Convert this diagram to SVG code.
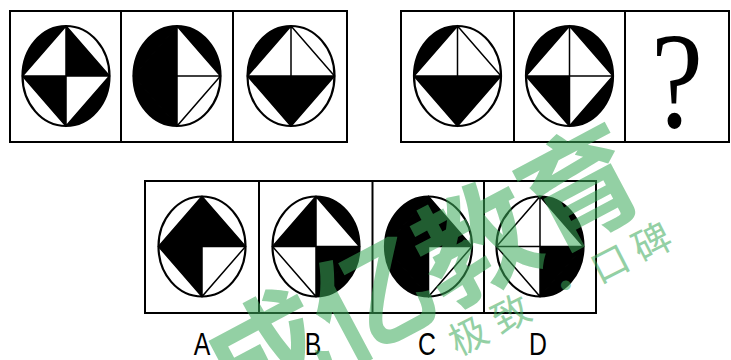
<svg xmlns="http://www.w3.org/2000/svg" xmlns:xlink="http://www.w3.org/1999/xlink" width="731" height="360" viewBox="0 0 731 360">
  <style>
    .box { fill: none; stroke: #000; stroke-width: 2; }
    .blk { fill: #000; }
    .outline { fill: none; stroke: #000; stroke-width: 2.2; }
    .lines { fill: none; stroke: #000; stroke-width: 1.5; }
    .lbl { font-family: "Liberation Sans", Arial, sans-serif; font-size: 31px; fill: #000; text-anchor: middle; }
    .q { font-family: "Liberation Serif", "Times New Roman", serif; font-size: 138px; fill: #000; text-anchor: middle; }
    .wm { font-family: "Noto Sans CJK SC", "Noto Sans", sans-serif; fill: rgb(60,170,90); opacity: 0.55; }
    .wms { font-size: 38px; text-anchor: middle; }
  </style>
  <defs>
    <path id="ctl" d="M-43.5,0 A43.5,50 0 0 1 0,-50 Z"/>
    <path id="ctr" d="M0,-50 A43.5,50 0 0 1 43.5,0 Z"/>
    <path id="cbr" d="M43.5,0 A43.5,50 0 0 1 0,50 Z"/>
    <path id="cbl" d="M0,50 A43.5,50 0 0 1 -43.5,0 Z"/>
    <path id="ttl" d="M0,0 H-43.5 L0,-50 Z"/>
    <path id="ttr" d="M0,0 V-50 L43.5,0 Z"/>
    <path id="tbr" d="M0,0 H43.5 L0,50 Z"/>
    <path id="tbl" d="M0,0 V50 L-43.5,0 Z"/>
    <g id="frame">
      <path class="lines" d="M0,-50 L43.5,0 L0,50 L-43.5,0 Z M0,-50 V50 M-43.5,0 H43.5"/>
      <ellipse class="outline" cx="0" cy="0" rx="43.5" ry="50"/>
    </g>
  </defs>

  <rect width="731" height="360" fill="#fff"/>

  <!-- boxes -->
  <g id="boxes">
    <rect class="box" x="10" y="11" width="337" height="131"/>
    <line class="box" x1="121" y1="11" x2="121" y2="142"/>
    <line class="box" x1="233" y1="11" x2="233" y2="142"/>
    <rect class="box" x="401" y="11" width="328" height="131"/>
    <line class="box" x1="514" y1="11" x2="514" y2="142"/>
    <line class="box" x1="625" y1="11" x2="625" y2="142"/>
    <rect class="box" x="145" y="181" width="451" height="132"/>
    <line class="box" x1="259" y1="181" x2="259" y2="313"/>
    <line class="box" x1="372.5" y1="181" x2="372.5" y2="313"/>
    <line class="box" x1="484" y1="181" x2="484" y2="313"/>
  </g>

  <g id="fig1" transform="translate(66,76)">
    <use xlink:href="#ctl" class="blk"/><use xlink:href="#ttr" class="blk"/>
    <use xlink:href="#tbl" class="blk"/><use xlink:href="#cbr" class="blk"/>
    <use xlink:href="#frame"/>
  </g>
  <g id="fig2" transform="translate(177,76)">
    <use xlink:href="#ctl" class="blk"/><use xlink:href="#ttl" class="blk"/>
    <use xlink:href="#tbl" class="blk"/><use xlink:href="#cbl" class="blk"/>
    <use xlink:href="#ctr" class="blk"/>
    <use xlink:href="#frame"/>
  </g>
  <g id="fig3" transform="translate(291,76)">
    <use xlink:href="#ctl" class="blk"/><use xlink:href="#tbl" class="blk"/>
    <use xlink:href="#tbr" class="blk"/>
    <use xlink:href="#frame"/>
  </g>
  <g id="fig4" transform="translate(457.5,76)">
    <use xlink:href="#ctl" class="blk"/><use xlink:href="#tbl" class="blk"/>
    <use xlink:href="#tbr" class="blk"/>
    <use xlink:href="#frame"/>
  </g>
  <g id="fig5" transform="translate(569.5,76)">
    <use xlink:href="#ctl" class="blk"/><use xlink:href="#ctr" class="blk"/>
    <use xlink:href="#tbl" class="blk"/><use xlink:href="#cbr" class="blk"/>
    <use xlink:href="#frame"/>
  </g>
  <g id="question">
    <text class="q" transform="translate(677,127) scale(0.85,1)">?</text>
  </g>

  <g id="optA" transform="translate(202,246.5)">
    <use xlink:href="#ttl" class="blk"/><use xlink:href="#ttr" class="blk"/>
    <use xlink:href="#tbl" class="blk"/>
    <use xlink:href="#frame"/>
  </g>
  <g id="optB" transform="translate(316,246.5)">
    <use xlink:href="#ttl" class="blk"/><use xlink:href="#ctr" class="blk"/>
    <use xlink:href="#tbr" class="blk"/><use xlink:href="#cbr" class="blk"/>
    <use xlink:href="#frame"/>
  </g>
  <g id="optC" transform="translate(428.5,246.5)">
    <use xlink:href="#ctl" class="blk"/><use xlink:href="#ttl" class="blk"/>
    <use xlink:href="#ttr" class="blk"/><use xlink:href="#tbl" class="blk"/>
    <use xlink:href="#cbl" class="blk"/>
    <use xlink:href="#frame"/>
  </g>
  <g id="optD" transform="translate(540,246.5)">
    <use xlink:href="#ctr" class="blk"/><use xlink:href="#tbr" class="blk"/>
    <use xlink:href="#cbr" class="blk"/>
    <use xlink:href="#frame"/>
  </g>

  <g id="labels">
    <text class="lbl" transform="translate(202,355) scale(0.8,1)">A</text>
    <text class="lbl" transform="translate(313,355) scale(0.8,1)">B</text>
    <text class="lbl" transform="translate(427,355) scale(0.8,1)">C</text>
    <text class="lbl" transform="translate(538,355) scale(0.8,1)">D</text>
  </g>

  <g id="watermark">
    <text class="wm" font-size="118" font-weight="700" transform="translate(236,420) rotate(-28)">成亿教育</text>
    <text class="wm wms" transform="translate(474.5,348) rotate(-27)"><tspan x="0" y="0">极</tspan><tspan x="48" y="0">致</tspan><tspan x="110" y="0" font-weight="700">·</tspan><tspan x="159" y="0">口</tspan><tspan x="206" y="0">碑</tspan></text>
  </g>
</svg>
